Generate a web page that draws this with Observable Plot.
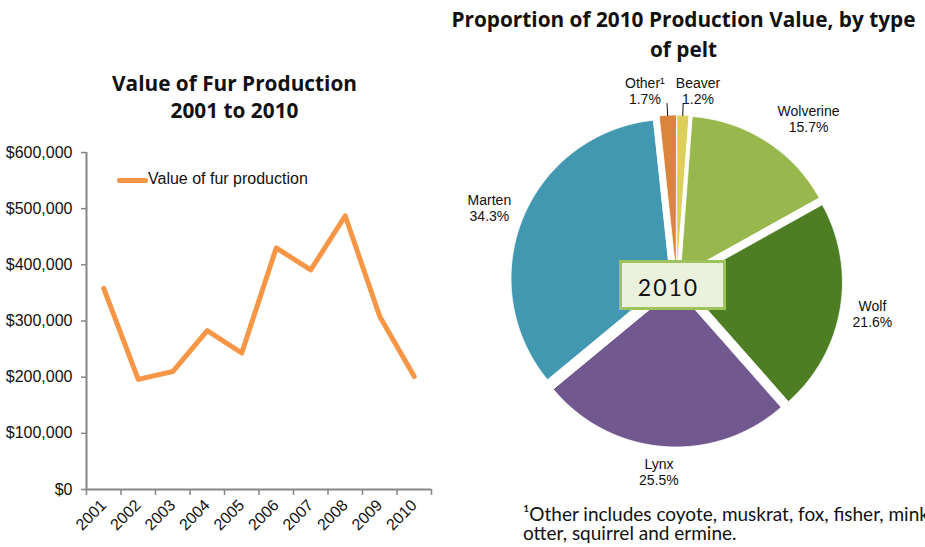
<!DOCTYPE html>
<html><head><meta charset="utf-8">
<script src="https://cdn.jsdelivr.net/npm/d3@7"></script>
<script src="https://cdn.jsdelivr.net/npm/@observablehq/plot@0.6"></script>
<style>
body{margin:0;background:#fff;}
#root{position:relative;width:925px;height:547px;overflow:hidden;background:#fff;font-family:"Liberation Sans",Arial,sans-serif;}
.abs{position:absolute;white-space:nowrap;}
.title{font-family:"Open Sans",Lato,sans-serif;font-weight:700;font-size:20.8px;line-height:21px;color:#111;text-align:center;}
svg{position:absolute;}
</style></head><body><div id="root"></div>
<script>
// ---- data: line chart ----
const years = [2001, 2002, 2003, 2004, 2005, 2006, 2007, 2008, 2009, 2010];
const furValues = [358000, 196000, 210000, 283000, 243000, 430000, 391000, 487000, 308000, 201000];
const yTicks = [0, 100000, 200000, 300000, 400000, 500000, 600000];
const seriesName = "Value of fur production";

// ---- data: pie chart (clockwise from 12 o'clock) ----
const pelts = ["Beaver", "Wolverine", "Wolf", "Lynx", "Marten", "Other\u00B9"];
const peltShares = [1.2, 15.7, 21.6, 25.5, 34.3, 1.7];
const pieYear = "2010";
const footnoteLines = ["\u00B9Other includes coyote, muskrat, fox, fisher, mink,", "otter, squirrel and ermine."];

// ---- styles / layout (kept apart from data) ----
const peltColors = ["#DCCF5C", "#98B84D", "#4E7E24", "#71588F", "#4298B0", "#DB843D"];
const labelNudge = [[14, 8], [25, 5], [0, -1], [-2, -7], [-3, 2], [-21, 8]]; // px
const leaderFor = [true, false, false, false, false, true];

const root = document.getElementById("root");
const fontAxis = "'Liberation Sans', Arial, sans-serif";

// ---------- left: line chart ----------
const furData = years.map((y, i) => ({year: y, value: furValues[i]}));
const bounds = years.map(y => y - 0.5).concat([years[years.length - 1] + 0.5]);
const left = Plot.plot({
  width: 445, height: 547,
  marginTop: 152, marginBottom: 58, marginLeft: 86, marginRight: 14,
  style: {fontFamily: fontAxis, fontSize: "16px", color: "#111", background: "transparent", overflow: "visible"},
  x: {domain: [bounds[0], bounds[bounds.length - 1]]},
  y: {domain: [yTicks[0], yTicks[yTicks.length - 1]]},
  marks: [
    Plot.axisY(yTicks, {tickFormat: d => "$" + d3.format(",")(d), tickSize: 5, tickPadding: 9, stroke: "#868686", strokeWidth: 1.5, label: null}),
    Plot.axisX(bounds, {tickFormat: () => "", tickSize: 6, stroke: "#868686", strokeWidth: 1.5, label: null}),
    Plot.axisX(years, {tickFormat: d => String(d), tickSize: 0, tickRotate: -45, tickPadding: 13, label: null}),
    Plot.ruleY([0], {stroke: "#868686", strokeWidth: 2}),
    Plot.ruleX([bounds[0]], {stroke: "#868686", strokeWidth: 2}),
    Plot.line(furData, {x: "year", y: "value", stroke: "#F79646", strokeWidth: 5, strokeLinecap: "round", strokeLinejoin: "round"})
  ]
});
left.style.left = "0px"; left.style.top = "0px";
root.appendChild(left);

// legend
const legLine = document.createElement("div");
legLine.className = "abs";
Object.assign(legLine.style, {left: "117px", top: "178px", width: "31px", height: "5px", background: "#F79646", borderRadius: "2px"});
root.appendChild(legLine);
const legText = document.createElement("div");
legText.className = "abs";
Object.assign(legText.style, {left: "148px", top: "170.5px", fontSize: "16px", lineHeight: "16px", color: "#111"});
legText.textContent = seriesName;
root.appendChild(legText);

// titles
function addTitle(text, cx, top, w) {
  const d = document.createElement("div");
  d.className = "abs title";
  Object.assign(d.style, {left: (cx - w / 2) + "px", top: top + "px", width: w + "px"});
  d.textContent = text;
  root.appendChild(d);
}
addTitle("Value of Fur Production", 234.5, 73, 400);
addTitle("2001 to 2010", 234.5, 99.5, 400);
addTitle("Proportion of 2010 Production Value, by type", 683.5, 8.5, 520);
addTitle("of pelt", 683.5, 38.5, 520);

// ---------- right: exploded pie ----------
const R = 159, EXPLODE = 7;
const OX = 440, OY = 60;             // svg offset on the page
const cx = 676 - OX, cy = 280.5 - OY; // pie centre inside svg
const total = d3.sum(peltShares);
let cum = 0;
const slices = pelts.map((name, i) => {
  const a0 = cum / total * 2 * Math.PI;
  cum += peltShares[i];
  const a1 = cum / total * 2 * Math.PI;
  const m = (a0 + a1) / 2;
  const e = EXPLODE / R;
  const ox = e * Math.sin(m), oy = e * Math.cos(m);
  const n = Math.max(2, Math.ceil((a1 - a0) * 180 / Math.PI * 2));
  const pts = [{x: ox, y: oy}];
  for (let k = 0; k <= n; k++) {
    const t = a0 + (a1 - a0) * k / n;
    pts.push({x: ox + Math.sin(t), y: oy + Math.cos(t)});
  }
  const lr = 1.25;
  return {
    name, share: peltShares[i], color: peltColors[i], pts, m,
    lx: lr * Math.sin(m) + labelNudge[i][0] / R,
    ly: lr * Math.cos(m) - labelNudge[i][1] / R,
    leader: leaderFor[i],
    x1: 1.12 * Math.sin(m), y1: 1.12 * Math.cos(m),
    x2: (1 + e - 0.005) * Math.sin(m), y2: (1 + e - 0.005) * Math.cos(m)
  };
});

const pie = Plot.plot({
  width: 485, height: 440, margin: 0,
  style: {fontFamily: fontAxis, fontSize: "14px", color: "#111", background: "transparent", overflow: "visible"},
  x: {domain: [-1, 1], range: [cx - R, cx + R], axis: null},
  y: {domain: [-1, 1], range: [cy + R, cy - R], axis: null},
  marks: [
    ...slices.map(s => Plot.line(s.pts, {x: "x", y: "y", fill: s.color, stroke: "white", strokeWidth: 0.8, curve: "linear-closed"})),
    Plot.link(slices.filter(s => s.leader), {x1: "x1", y1: "y1", x2: "x2", y2: "y2", stroke: "#111", strokeWidth: 1}),
    Plot.text(slices, {x: "lx", y: "ly", text: d => d.name + "\n" + d.share.toFixed(1) + "%", fontSize: 14, lineHeight: 1.15, fill: "#111"})
  ]
});
pie.style.left = OX + "px"; pie.style.top = OY + "px";
root.appendChild(pie);

// year box in the pie centre
const box = document.createElement("div");
box.className = "abs";
Object.assign(box.style, {left: "619px", top: "260px", width: "107px", height: "50px", boxSizing: "border-box",
  border: "3px solid #9DC35B", background: "#EBF1DD", fontFamily: "Lato, 'Open Sans', sans-serif",
  fontSize: "23px", lineHeight: "23px", letterSpacing: "2px", textAlign: "center", paddingTop: "12.5px", paddingRight: "8px", color: "#111"});
box.textContent = pieYear;
root.appendChild(box);

// footnote (the reference crops the first line at the right edge)
footnoteLines.forEach((t, i) => {
  const note = document.createElement("div");
  note.className = "abs";
  Object.assign(note.style, {left: "523px", top: (505 + i * 19) + "px", fontFamily: "Lato, 'Open Sans', sans-serif", fontSize: "19px", lineHeight: "18px", color: "#111"});
  note.textContent = t;
  root.appendChild(note);
});
</script></body></html>
